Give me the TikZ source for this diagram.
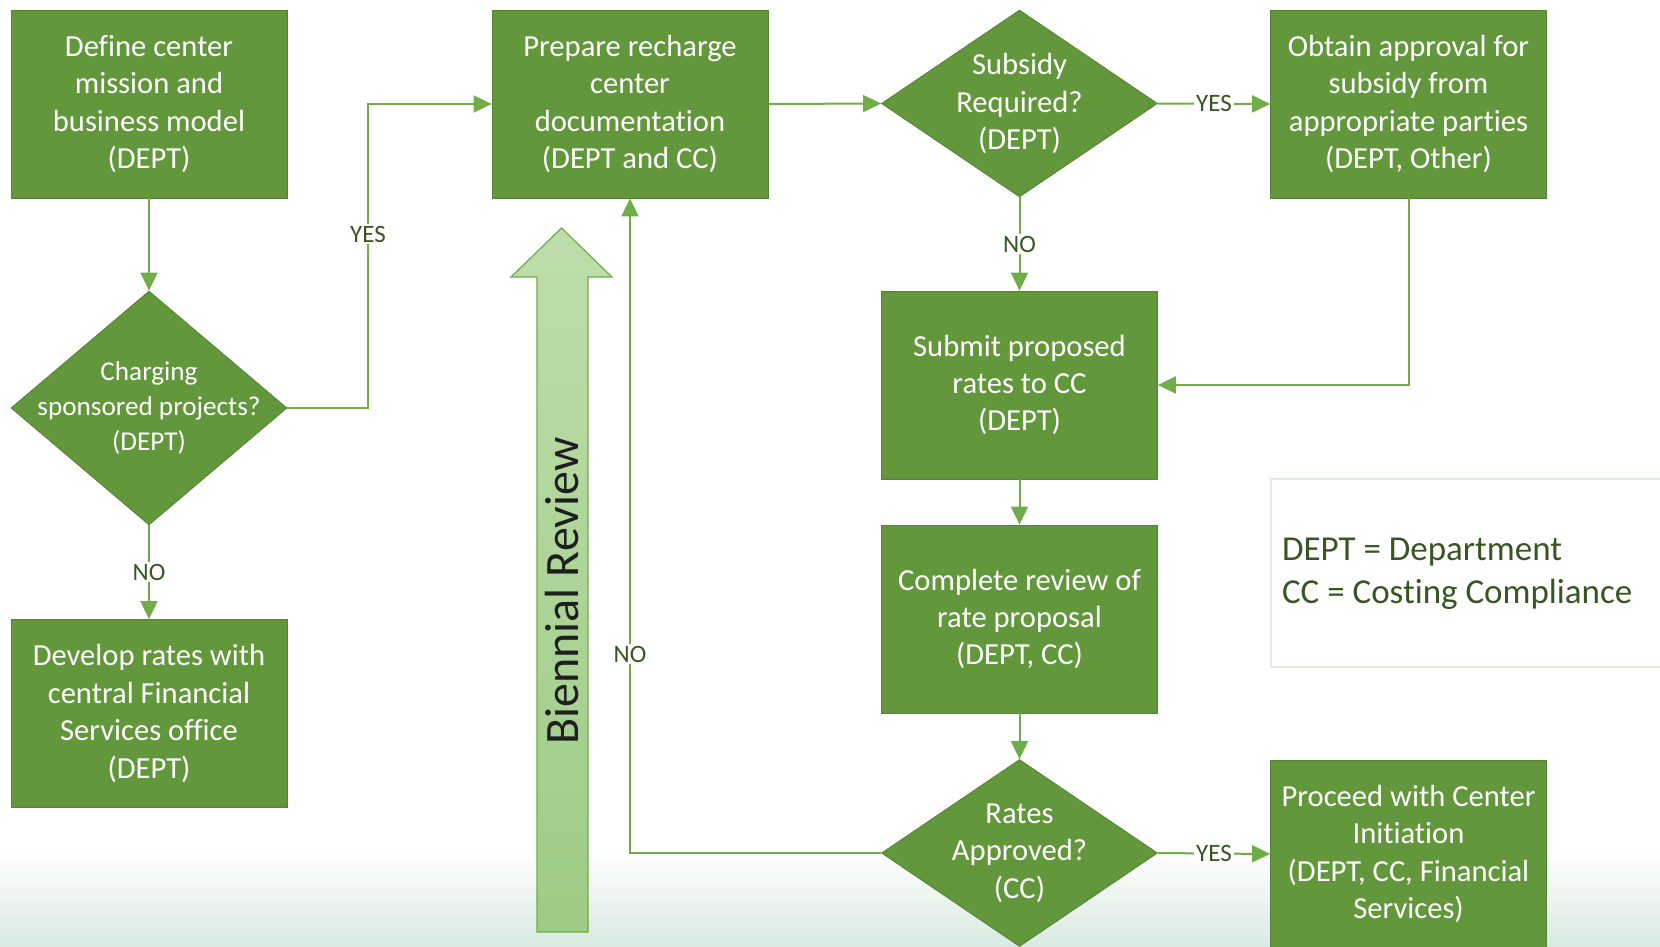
\documentclass[tikz,border=0pt]{standalone}
\usepackage{fontspec}
\setmainfont[Ligatures=NoCommon]{Carlito}
\usetikzlibrary{arrows.meta,shapes.geometric}

\definecolor{boxgreen}{RGB}{98,151,60}
\definecolor{edgegreen}{RGB}{84,130,52}
\definecolor{linegreen}{RGB}{112,173,71}
\definecolor{textgreen}{RGB}{55,86,35}
\definecolor{legendline}{RGB}{228,236,226}
\definecolor{arrowtop}{RGB}{190,221,170}
\definecolor{arrowbot}{RGB}{157,203,133}
\definecolor{bgmint}{RGB}{216,234,224}

\tikzset{
  stepbox/.style={rectangle, draw=edgegreen, fill=boxgreen, text=white, align=center,
    minimum width=138pt, minimum height=94pt, inner sep=0pt,
    font=\fontsize{15.3}{18.7}\selectfont},
  decision/.style={diamond, draw=edgegreen, fill=boxgreen, inner sep=0pt,
    minimum width=138pt, minimum height=94pt},
  decisiontext/.style={text=white, align=center, font=\fontsize{15.3}{18.7}\selectfont},
  flow/.style={draw=linegreen, line width=1pt, -{Triangle[length=9pt,width=8.5pt]}},
  answer/.style={fill=white, text=textgreen, inner sep=1pt, font=\fontsize{12.5}{14}\selectfont},
}

\begin{document}
\begin{tikzpicture}[x=0.5pt, y=-0.5pt]
\useasboundingbox (0,0) rectangle (1660,947);
\shade[top color=white, bottom color=bgmint] (0,850) rectangle (1660,947);

\shade[top color=arrowtop, bottom color=arrowbot, draw=linegreen, line width=0.6pt]
    (537,932) -- (537,277) -- (511,277) -- (561.5,228) -- (612,277) -- (588,277) -- (588,932) -- cycle;
\node[rotate=90, text=black!88, font=\fontsize{24}{28}\selectfont] (biennial) at (562,591) {Biennial Review};

\node[stepbox] (define) at (149,104) {Define center\\mission and\\business model\\(DEPT)};
\node[stepbox] (prepare) at (630,104) {Prepare recharge\\center\\documentation\\(DEPT and CC)};
\node[stepbox] (obtain) at (1408.5,104) {Obtain approval for\\subsidy from\\appropriate parties\\(DEPT, Other)};
\node[stepbox] (submit) at (1019.5,385) {Submit proposed\\rates to CC\\(DEPT)};
\node[stepbox] (review) at (1019.5,619) {Complete review of\\rate proposal\\(DEPT, CC)};
\node[stepbox] (develop) at (149,713.5) {Develop rates with\\central Financial\\Services office\\(DEPT)};
\node[stepbox] (proceed) at (1408.5,854) {Proceed with Center\\Initiation\\(DEPT, CC, Financial\\Services)};

\node[decision, minimum height=117pt] (charge) at (149,408) {};
\node[decisiontext, font=\fontsize{13.6}{17.5}\selectfont] (chargetext) at (charge) {Charging\\sponsored projects?\\(DEPT)};
\node[decision, minimum height=93.5pt] (subsidy) at (1019.5,103.5) {};
\node[decisiontext] (subsidytext) at (subsidy) {Subsidy\\Required?\\(DEPT)};
\node[decision, minimum height=93.5pt] (rates) at (1019.5,853) {};
\node[decisiontext] (ratestext) at (rates) {Rates\\Approved?\\(CC)};

\draw[legendline, line width=0.8pt] (1271,479) rectangle (1670,667);
\node[text=textgreen, align=left, anchor=west, font=\fontsize{17.5}{21.5}\selectfont] (legend) at (1275,574)
    {DEPT = Department\\CC = Costing Compliance};

\coordinate (yesbend) at (368,234);
\draw[flow] (define.south) -- (charge.north);
\draw[flow] (charge.east) -| (yesbend) |- (prepare.west);
\node[answer] (yes1) at (yesbend) {YES};
\draw[flow] (charge.south) -- node[answer] (no1) {NO} (develop.north);
\draw[flow] (prepare.east) -- (subsidy.west);
\draw[flow] (subsidy.east) -- node[answer] (yes2) {YES} (obtain.west);
\draw[flow] (subsidy.south) -- node[answer] (no2) {NO} (submit.north);
\draw[flow] (obtain.south) |- (submit.east);
\draw[flow] (submit.south) -- (review.north);
\draw[flow] (review.south) -- (rates.north);
\draw[flow] (rates.west) -| node[answer, pos=0.652] (no3) {NO} (prepare.south);
\draw[flow] (rates.east) -- node[answer] (yes3) {YES} (proceed.west);
\end{tikzpicture}
\end{document}
